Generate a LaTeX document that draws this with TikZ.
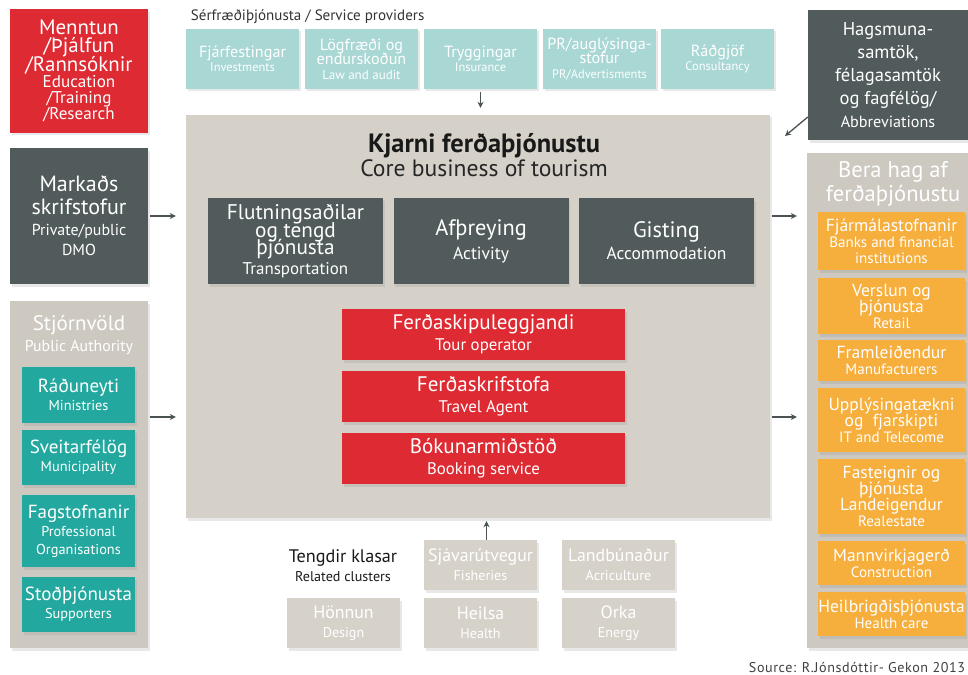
\documentclass[tikz,border=0pt]{standalone}
\usepackage{fontspec}
\setmainfont{PT Sans}[Scale=1.13]
\usetikzlibrary{shadows,arrows.meta,calc}
\definecolor{cred}{HTML}{DE2A32}
\definecolor{cdark}{HTML}{515B5B}
\definecolor{cteal}{HTML}{A8D7D4}
\definecolor{cteal2}{HTML}{22A89F}
\definecolor{ccore}{HTML}{D5D1C8}
\definecolor{cpanel}{HTML}{CDC9C1}
\definecolor{corange}{HTML}{F6AE3C}
\definecolor{cclus}{HTML}{D6D2CA}
\definecolor{carrow}{HTML}{4A5252}
\newcommand\fs[2]{\fontsize{#1}{#2}\selectfont\lineskiplimit=-30pt\relax}
\newcommand\sz[2]{{\fontsize{#1}{#1}\selectfont #2}}
\tikzset{
  wh/.style 2 args={minimum width=#1pt, minimum height=#2pt},
  bx/.style={inner sep=0pt, align=center, text=white,
    drop shadow={opacity=0.18, shadow xshift=1.5pt, shadow yshift=-2.5pt}},
  redbox/.style={bx, fill=cred},
  darkbox/.style={bx, fill=cdark},
  servbox/.style={bx, fill=cteal, font=\fs{14.3}{14.5}},
  govbox/.style={bx, fill=cteal2, font=\fs{16.8}{18}},
  panel/.style={bx, fill=cpanel},
  orbox/.style={bx, fill=corange, font=\fs{15.5}{16}},
  clbox/.style={bx, fill=cclus, font=\fs{15.8}{19}},
  corebox/.style={bx, fill=ccore},
  arr/.style={draw=carrow, line width=1.3pt, -{Stealth[length=6pt,width=6pt]}},
}
\begin{document}
\begin{tikzpicture}[x=1pt,y=-1pt]
\useasboundingbox (0,0) rectangle (968,674);
\fill[white] (0,0) rectangle (968,674);

% top-left red
\node[redbox, wh={138}{123}, font=\fs{18.5}{18.5}] (edu) at (79,71)
  {Menntun\\/Þjálfun\\/Rannsóknir\\[-2pt]\sz{15.1}{Education}\\[-2.5pt]\sz{15.1}{/Training}\\[-2.5pt]\sz{15.1}{/Research}};

% service providers
\node[anchor=west, font=\fs{13.3}{13}, text=black!80] (sp) at (187,17) {Sérfræðiþjónusta / Service providers};
\node[servbox, wh={113}{60}] (s1) at (242.5,59) {Fjárfestingar\\\sz{11}{Investments}};
\node[servbox, wh={113}{60}] (s2) at (361.5,59) {Lögfræði og\\endurskoðun\\\sz{11.5}{Law and audit}};
\node[servbox, wh={113}{60}] (s3) at (480.5,59) {Tryggingar\\\sz{11}{Insurance}};
\node[servbox, wh={113}{60}] (s4) at (599.5,59) {PR/auglýsinga-\\stofur\\\sz{11}{PR/Advertisments}};
\node[servbox, wh={113}{60}] (s5) at (717.5,59) {Ráðgjöf\\\sz{11}{Consultancy}};

% Hagsmuna
\node[darkbox, wh={160}{130}, font=\fs{16.4}{23}] (hag) at (888,75)
  {Hagsmuna-\\samtök,\\félagasamtök\\og fagfélög/\\\sz{14.3}{Abbreviations}};

% core
\node[corebox, wh={584}{403}] (core) at (478,316.5) {};
\node[font=\fs{23.4}{23}\bfseries, text=black!90] (kt) at (484,146) {Kjarni ferðaþjónustu};
\node[font=\fs{20.9}{21}, text=black!85] (kc) at (484,168) {Core business of tourism};

\node[darkbox, wh={175}{86}, font=\fs{18.8}{17.5}] (f1) at (295.5,241)
  {Flutningsaðilar\\og tengd\\þjónusta\\[2pt]\sz{15}{Transportation}};
\node[darkbox, wh={175}{86}, font=\fs{19.8}{24}] (f2) at (481,241) {Afþreying\\\sz{15.5}{Activity}};
\node[darkbox, wh={175}{86}, font=\fs{19.8}{22}] (f3) at (666.5,241) {Gisting\\\sz{15.5}{Accommodation}};

\node[redbox, wh={283}{51}, font=\fs{18.6}{21}] (r1) at (483.5,334.5) {Ferðaskipuleggjandi\\\sz{14.9}{Tour operator}};
\node[redbox, wh={283}{51}, font=\fs{18.6}{21}] (r2) at (483.5,396.5) {Ferðaskrifstofa\\\sz{14.9}{Travel Agent}};
\node[redbox, wh={283}{51}, font=\fs{18.6}{21}] (r3) at (483.5,458.5) {Bókunarmiðstöð\\\sz{14.9}{Booking service}};

% Markaðs
\node[darkbox, wh={138}{136}, font=\fs{19.5}{23}] (mk) at (79,216)
  {Markaðs\\skrifstofur\\[-2pt]\sz{14.1}{Private/public}\\[-3pt]\sz{14.1}{DMO}};

% Stjórnvöld
\node[panel, wh={138}{347}] (st) at (79,474.5) {};
\node[font=\fs{18.6}{21}, text=white, align=center] (stt) at (79,335) {Stjórnvöld\\\sz{14}{Public Authority}};
\node[govbox, wh={113}{56}] (g1) at (78.5,395) {Ráðuneyti\\\sz{12.7}{Ministries}};
\node[govbox, wh={113}{55}] (g2) at (78.5,457.5) {Sveitarfélög\\\sz{12.7}{Municipality}};
\node[govbox, wh={113}{72}] (g3) at (78.5,531) {Fagstofnanir\\\sz{12.7}{Professional}\\\sz{12.7}{Organisations}};
\node[govbox, wh={113}{55}] (g4) at (78.5,604.5) {Stoðþjónusta\\\sz{12.7}{Supporters}};

% right panel
\node[panel, wh={161}{495}] (rp) at (887.5,400.5) {};
\node[font=\fs{20}{24}, text=white, align=center] (rpt) at (893,184) {Bera hag af\\ferðaþjónustu};
\node[orbox, wh={147}{58}] (o1) at (891.5,241) {Fjármálastofnanir\\\sz{13.3}{Banks and financial}\\\sz{13.3}{institutions}};
\node[orbox, wh={147}{56}] (o2) at (891.5,306) {Verslun og\\þjónusta\\\sz{13.3}{Retail}};
\node[orbox, wh={147}{41}] (o3) at (891.5,360.5) {Framleiðendur\\\sz{13.3}{Manufacturers}};
\node[orbox, wh={147}{64}] (o4) at (891.5,420) {Upplýsingatækni\\og~~fjarskipti\\\sz{13.3}{IT and Telecome}};
\node[orbox, wh={147}{75}] (o5) at (891.5,496.5) {Fasteignir og\\þjónusta\\Landeigendur\\\sz{13.3}{Realestate}};
\node[orbox, wh={147}{44}] (o6) at (891.5,563) {Mannvirkjagerð\\\sz{13.3}{Construction}};
\node[orbox, wh={147}{44}] (o7) at (891.5,614) {Heilbrigðisþjónusta\\\sz{13.3}{Health care}};

% related clusters
\node[font=\fs{16.1}{19}, align=center, text=black!90] (tk) at (343,566) {Tengdir klasar\\\sz{12.5}{Related clusters}};
\node[clbox, wh={113}{50}] (c1) at (480.5,565) {Sjávarútvegur\\\sz{12.5}{Fisheries}};
\node[clbox, wh={113}{50}] (c2) at (618.5,565) {Landbúnaður\\\sz{12.5}{Acriculture}};
\node[clbox, wh={113}{50}] (c3) at (343.5,623) {Hönnun\\\sz{12.5}{Design}};
\node[clbox, wh={113}{50}] (c4) at (480.5,623) {Heilsa\\\sz{12.5}{Health}};
\node[clbox, wh={113}{50}] (c5) at (618.5,623) {Orka\\\sz{12.5}{Energy}};

\node[anchor=east, font=\fs{12.5}{12}\addfontfeature{LetterSpace=4}, text=black!75] (src) at (969,667) {Source: R.Jónsdóttir- Gekon 2013};

% arrows
\draw[arr, shorten <=3pt, shorten >=7pt] (s3.south) -- (s3.south |- core.north);
\coordinate (hagstart) at ($(hag.west)+(0,42)$);
\coordinate (hagend) at (785,136);
\draw[arr] (hagstart) -- (hagend);
\draw[arr, shorten <=2pt, shorten >=10pt] (mk.east) -- (mk.east -| core.west);
\coordinate (a2) at (148,417);
\draw[arr, shorten <=2pt, shorten >=10pt] (a2 -| st.east) -- (a2 -| core.west);
\draw[arr, shorten <=2pt, shorten >=10pt] (mk.east -| core.east) -- (mk.east -| rp.west);
\draw[arr, shorten <=2pt, shorten >=10pt] (a2 -| core.east) -- (a2 -| rp.west);
\coordinate (b1) at ($(c1.north)+(6,0)$);
\draw[arr, shorten >=3pt] (b1) -- (b1 |- core.south);
\end{tikzpicture}
\end{document}
